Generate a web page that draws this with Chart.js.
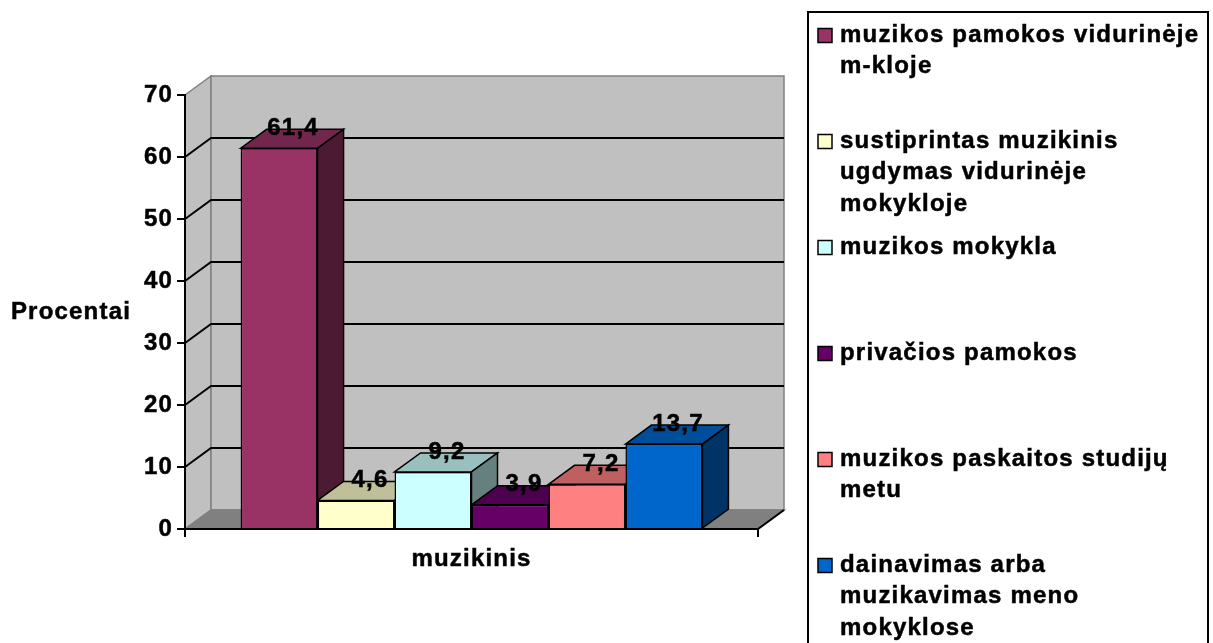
<!DOCTYPE html>
<html>
<head>
<meta charset="utf-8">
<script src="https://cdn.jsdelivr.net/npm/chart.js@4.4.1/dist/chart.umd.min.js"></script>
<style>
  html, body { margin: 0; padding: 0; overflow: hidden; background: #fff; }
  canvas { display: block; }
</style>
</head>
<body>
<canvas id="grafikas" width="1213" height="643"></canvas>
<script>
// duomenys
const kategorijos = ['muzikinis'];
const serijos = [
  ['muzikos pamokos vidurinėje', 'm-kloje'],
  ['sustiprintas muzikinis', 'ugdymas vidurinėje', 'mokykloje'],
  ['muzikos mokykla'],
  ['privačios pamokos'],
  ['muzikos paskaitos studijų', 'metu'],
  ['dainavimas arba', 'muzikavimas meno', 'mokyklose']
];
const reiksmes = [61.4, 4.6, 9.2, 3.9, 7.2, 13.7];
const spalvos = ['#993366', '#ffffcc', '#ccffff', '#660066', '#ff8080', '#0066cc'];
const yMin = 0, yMax = 70, yZingsnis = 10;
const yPavadinimas = 'Procentai';

// 3D gylis, sriftai, legendos vieta
const DX = 26, DY = -19;
const TARPAS = '1.2px';
const STOROS = 0.5;
const SRIFTAS = '"Liberation Sans", Arial, sans-serif';
const sriftas = { family: SRIFTAS, size: 24, weight: 'bold', lineHeight: 1.2 };
const LEGENDA = { x: 808, y: 12, plotis: 400, zingsnis: 106, pirma: 35, eilute: 31.5 };

function tamsinti(hex, k) {
  const n = parseInt(hex.slice(1), 16);
  const r = Math.round(((n >> 16) & 255) * k);
  const g = Math.round(((n >> 8) & 255) * k);
  const b = Math.round((n & 255) * k);
  return 'rgb(' + r + ',' + g + ',' + b + ')';
}

function plokstuma(ctx, taskai, fill, stroke) {
  ctx.beginPath();
  ctx.moveTo(taskai[0][0], taskai[0][1]);
  for (let i = 1; i < taskai.length; i++) ctx.lineTo(taskai[i][0], taskai[i][1]);
  ctx.closePath();
  ctx.fillStyle = fill;
  ctx.fill();
  ctx.strokeStyle = stroke;
  ctx.stroke();
}

function tekstas(ctx, t, x, y) {
  ctx.lineWidth = STOROS;
  ctx.strokeStyle = '#000';
  ctx.fillText(t, x, y);
  ctx.strokeText(t, x, y);
}

const erdve = {
  id: 'erdve',
  beforeLayout(chart) { chart.ctx.letterSpacing = TARPAS; },
  beforeDraw(chart) {
    const ctx = chart.ctx;
    ctx.letterSpacing = TARPAS;
    const a = chart.chartArea, y = chart.scales.y;
    ctx.save();
    ctx.lineWidth = 1.5;
    // sienos ir grindys
    plokstuma(ctx, [[a.left, a.top], [a.left + DX, a.top + DY], [a.left + DX, a.bottom + DY], [a.left, a.bottom]], '#c0c0c0', '#808080');
    plokstuma(ctx, [[a.left + DX, a.top + DY], [a.right + DX, a.top + DY], [a.right + DX, a.bottom + DY], [a.left + DX, a.bottom + DY]], '#c0c0c0', '#808080');
    plokstuma(ctx, [[a.left, a.bottom], [a.left + DX, a.bottom + DY], [a.right + DX, a.bottom + DY], [a.right, a.bottom]], '#808080', '#808080');
    ctx.lineWidth = 2;
    ctx.strokeStyle = '#000';
    ctx.beginPath();
    ctx.moveTo(a.right, a.bottom);
    ctx.lineTo(a.right + DX, a.bottom + DY);
    ctx.stroke();
    // tinklelis
    y.ticks.forEach(t => {
      if (t.value <= yMin || t.value >= yMax) return;
      const py = y.getPixelForValue(t.value);
      ctx.beginPath();
      ctx.moveTo(a.left, py);
      ctx.lineTo(a.left + DX, py + DY);
      ctx.lineTo(a.right + DX, py + DY);
      ctx.stroke();
    });
    ctx.restore();
  },
  beforeDatasetsDraw(chart) {
    const ctx = chart.ctx;
    ctx.save();
    ctx.lineWidth = 1.5;
    chart.data.datasets.forEach((ds, i) => {
      const el = chart.getDatasetMeta(i).data[0];
      const l = el.x - el.width / 2, r = el.x + el.width / 2, t = el.y, b = el.base;
      plokstuma(ctx, [[l, t], [l + DX, t + DY], [r + DX, t + DY], [r, t]], tamsinti(ds.backgroundColor, 0.75), '#000');
      plokstuma(ctx, [[r, t], [r + DX, t + DY], [r + DX, b + DY], [r, b]], tamsinti(ds.backgroundColor, 0.5), '#000');
    });
    ctx.restore();
  },
  afterDatasetsDraw(chart) {
    const ctx = chart.ctx;
    ctx.save();
    ctx.font = 'bold 24px ' + SRIFTAS;
    ctx.fillStyle = '#000';
    ctx.textAlign = 'center';
    ctx.textBaseline = 'middle';
    chart.data.datasets.forEach((ds, i) => {
      const el = chart.getDatasetMeta(i).data[0];
      tekstas(ctx, String(ds.data[0]).replace('.', ','), el.x + DX / 2 + 1, el.y + DY - 1);
    });
    ctx.restore();
  },
  afterDraw(chart) {
    const ctx = chart.ctx, a = chart.chartArea;
    ctx.save();
    ctx.font = 'bold 24px ' + SRIFTAS;
    ctx.fillStyle = '#000';
    ctx.textAlign = 'center';
    ctx.textBaseline = 'middle';
    tekstas(ctx, yPavadinimas, 71, (a.top + a.bottom) / 2);
    // legenda
    ctx.lineWidth = 2;
    ctx.strokeStyle = '#000';
    ctx.strokeRect(LEGENDA.x, LEGENDA.y, LEGENDA.plotis, 700);
    ctx.textAlign = 'left';
    chart.data.datasets.forEach((ds, i) => {
      const cy = LEGENDA.pirma + i * LEGENDA.zingsnis;
      ctx.lineWidth = 1.5;
      ctx.fillStyle = ds.backgroundColor;
      ctx.fillRect(LEGENDA.x + 10, cy - 6.5, 14, 14);
      ctx.strokeRect(LEGENDA.x + 10, cy - 6.5, 14, 14);
      ctx.fillStyle = '#000';
      serijos[i].forEach((eil, j) => tekstas(ctx, eil, LEGENDA.x + 32, cy + j * LEGENDA.eilute));
    });
    ctx.restore();
  }
};

const asiesTekstas = { color: '#000', font: sriftas, textStrokeColor: '#000', textStrokeWidth: STOROS };

new Chart(document.getElementById('grafikas'), {
  type: 'bar',
  data: {
    labels: kategorijos,
    datasets: serijos.map((s, i) => ({
      label: s.join(' '),
      data: [reiksmes[i]],
      backgroundColor: spalvos[i],
      borderColor: '#000',
      borderWidth: 1.5,
      categoryPercentage: 0.806,
      barPercentage: 1
    }))
  },
  options: {
    responsive: false,
    devicePixelRatio: 1,
    animation: false,
    layout: { padding: { top: 95, right: 455, bottom: 0, left: 0 } },
    scales: {
      x: {
        offset: true,
        grid: { offset: true, drawOnChartArea: false, tickLength: 8, color: '#000', lineWidth: 2 },
        border: { color: '#000', width: 2 },
        ticks: Object.assign({ padding: 8 }, asiesTekstas),
        afterFit(s) { s.height = 114; }
      },
      y: {
        min: yMin,
        max: yMax,
        grid: { drawOnChartArea: false, tickLength: 8, color: '#000', lineWidth: 2 },
        border: { color: '#000', width: 2 },
        ticks: Object.assign({ stepSize: yZingsnis, padding: 4 }, asiesTekstas),
        afterFit(s) { s.width = 185; }
      }
    },
    plugins: {
      tooltip: { enabled: false },
      legend: { display: false }
    }
  },
  plugins: [erdve]
});
</script>
</body>
</html>
